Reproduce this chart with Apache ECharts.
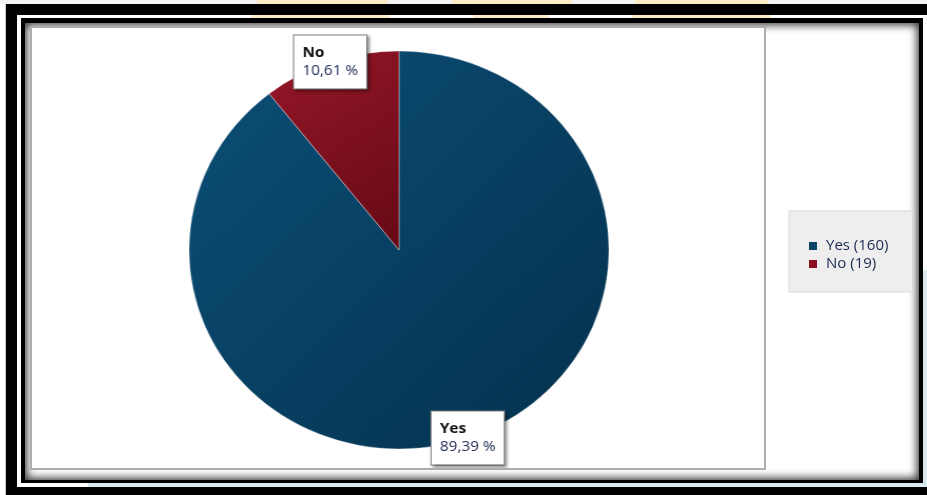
<!DOCTYPE html>
<html>
<head>
<meta charset="utf-8">
<script src="https://cdn.jsdelivr.net/npm/echarts@6/dist/echarts.min.js"></script>
<style>
  html, body { margin: 0; padding: 0; background: #fff; }
  #page { position: relative; width: 927px; height: 495px; overflow: hidden; background: #fff; }
  .blk { position: absolute; }
</style>
</head>
<body>
<div id="page">
  <!-- frame around the chart -->
  <div class="blk" style="left:0;top:0;width:927px;height:4px;background:#f3f3f3"></div>
  <div class="blk" style="left:257px;top:0;width:130px;height:4px;background:#fdecc8"></div>
  <div class="blk" style="left:452px;top:0;width:120px;height:4px;background:#fdecc8"></div>
  <div class="blk" style="left:635px;top:0;width:133px;height:4px;background:#fdecc8"></div>
  <div class="blk" style="left:5px;top:4px;width:1px;height:491px;background:#c8c8c8"></div>
  <div class="blk" style="left:6px;top:4px;width:940px;height:500px;background:#000"></div>
  <div class="blk" style="left:17px;top:15px;width:910px;height:472px;background:#fff"></div>
  <div class="blk" style="left:251px;top:15px;width:139px;height:3px;background:#fdecc8"></div>
  <div class="blk" style="left:473px;top:15px;width:76px;height:3px;background:#fdecc8"></div>
  <div class="blk" style="left:632px;top:15px;width:139px;height:3px;background:#fdecc8"></div>
  <div class="blk" style="left:88px;top:483px;width:839px;height:4px;background:#d9e9ed"></div>
  <div class="blk" style="left:923px;top:270px;width:4px;height:217px;background:#d9e9ed"></div>
  <div class="blk" style="left:21px;top:18px;width:902px;height:465px;background:#000"></div>
  <div class="blk" style="left:25px;top:23px;width:894px;height:457px;background:#fff;box-shadow:inset 0 0 9px 2px rgba(0,0,0,0.8)"></div>
  <div class="blk" style="left:30px;top:26px;width:736px;height:444px;box-sizing:border-box;border:2px solid #adadad;background:#fff"></div>
  <div id="main" class="blk" style="left:0;top:0;width:927px;height:495px"></div>
  <div id="pie" class="blk" style="left:32px;top:28px;width:732px;height:440px;transform:scaleX(1.055);transform-origin:367px 222px"></div>
</div>
<script>
// 数据
var categories = ['Yes', 'No'];
var counts = [160, 19];
var flatColors = ['#0a4468', '#8a1020'];
var gradColors = [['#0c4f78', '#04314d'], ['#951728', '#660a15']];

// 饼图中心和半径 (pie div 内坐标)
var pieCx = 367, pieCy = 222, pieR = 199;

var total = counts.reduce(function (a, b) { return a + b; }, 0);

var pieData = categories.map(function (name, i) {
    return {
        name: name,
        value: counts[i],
        itemStyle: {
            color: new echarts.graphic.LinearGradient(0, 0, 1, 1, [
                { offset: 0, color: gradColors[i][0] },
                { offset: 1, color: gradColors[i][1] }
            ])
        }
    };
});

var legendData = categories.map(function (name, i) {
    return { name: name, value: counts[i], itemStyle: { color: flatColors[i] } };
});

// 图例 (不拉伸)
var mainChart = echarts.init(document.getElementById('main'));
mainChart.setOption({
    animation: false,
    legend: {
        orient: 'vertical',
        left: 789,
        top: 211,
        padding: [26, 24, 19, 20],
        backgroundColor: '#eeeeee',
        borderColor: '#d8d8d8',
        borderWidth: 1,
        icon: 'rect',
        itemWidth: 8,
        itemHeight: 8,
        itemGap: 0,
        textStyle: {
            fontFamily: 'Open Sans',
            fontSize: 15,
            lineHeight: 18,
            color: '#1c2a52',
            padding: [0, 0, 0, 4]
        },
        formatter: function (name) {
            var i = categories.indexOf(name);
            return name + ' (' + counts[i] + ')';
        },
        data: categories
    },
    series: [
        {
            type: 'pie',
            radius: 0,
            center: [-100, -100],
            silent: true,
            label: { show: false },
            labelLine: { show: false },
            data: legendData
        }
    ]
});

// 饼图 (横向拉伸)
var pieChart = echarts.init(document.getElementById('pie'));
pieChart.setOption({
    animation: false,
    series: [
        {
            type: 'pie',
            center: [pieCx, pieCy],
            radius: pieR,
            startAngle: 90,
            clockwise: true,
            avoidLabelOverlap: false,
            itemStyle: {
                borderColor: 'rgba(255,255,255,0.35)',
                borderWidth: 1
            },
            label: {
                show: true,
                position: 'outside',
                formatter: function (p) {
                    return '{n|' + p.name + '}\n{p|' + p.percent.toFixed(2).replace('.', ',') + ' %}';
                },
                backgroundColor: '#fff',
                borderColor: '#7d7d7d',
                borderWidth: 1,
                padding: [8, 8, 9, 8],
                shadowColor: 'rgba(0,0,0,0.4)',
                shadowBlur: 3,
                shadowOffsetX: 2,
                shadowOffsetY: 2,
                rich: {
                    n: { fontFamily: 'Open Sans', fontSize: 14.5, fontWeight: 'bold', color: '#111', lineHeight: 18, align: 'left' },
                    p: { fontFamily: 'Open Sans', fontSize: 14.5, color: '#222e58', lineHeight: 18, align: 'left' }
                }
            },
            labelLine: { show: false },
            labelLayout: function (params) {
                var idx = params.dataIndex;
                var before = 0;
                for (var k = 0; k < idx; k++) before += counts[k];
                var mid = (90 - 360 * (before + counts[idx] / 2) / total) * Math.PI / 180;
                return {
                    x: pieCx + pieR * Math.cos(mid),
                    y: pieCy - pieR * Math.sin(mid),
                    align: 'center',
                    verticalAlign: 'middle'
                };
            },
            emphasis: { disabled: true },
            data: pieData
        }
    ]
});
</script>
</body>
</html>
